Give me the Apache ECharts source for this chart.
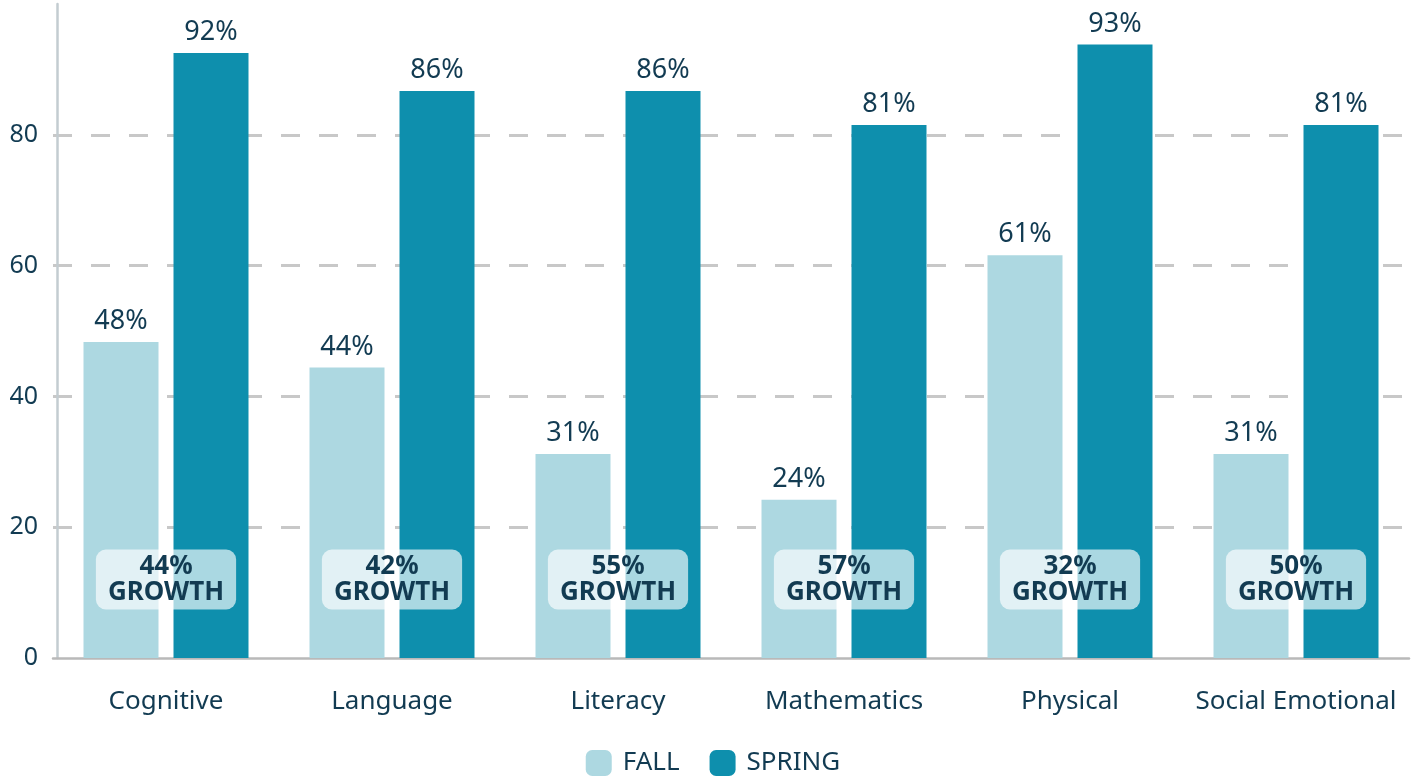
<!DOCTYPE html>
<html>
<head>
<meta charset="utf-8">
<script src="https://cdn.jsdelivr.net/npm/echarts@6/dist/echarts.min.js"></script>
<style>
  html, body { margin: 0; padding: 0; background: #ffffff; }
  #chart { width: 1426px; height: 782px; }
</style>
</head>
<body>
<div id="chart"></div>
<script>
// ---- data ----
const categories = ['Cognitive', 'Language', 'Literacy', 'Mathematics', 'Physical', 'Social Emotional'];
const fallValues = [48.3, 44.4, 31.2, 24.2, 61.6, 31.2];
const springValues = [92.5, 86.7, 86.7, 81.5, 93.8, 81.5];
const growthValues = [44, 42, 55, 57, 32, 50];
const seriesNames = ['FALL', 'SPRING'];
const yTicks = [0, 20, 40, 60, 80];

// ---- styles ----
const TEXT = '#123b52';
const FONT = 'Noto Sans';
const FALL_COLOR = '#add8e1';
const SPRING_COLOR = '#0e8fad';
const GROWTH_LEVEL = 12.0;

const chart = echarts.init(document.getElementById('chart'), null, { renderer: 'canvas' });

const barLabel = {
  show: true,
  position: 'top',
  distance: 7,
  color: TEXT,
  fontFamily: FONT,
  fontSize: 27,
  formatter: p => Math.floor(p.value) + '%'
};

chart.setOption({
  animation: false,
  textStyle: { fontFamily: FONT, color: TEXT },
  grid: { left: 53, right: 17, top: 4, bottom: 124, containLabel: false },
  legend: {
    data: seriesNames,
    top: 750,
    left: 'center',
    padding: 0,
    itemWidth: 26,
    itemHeight: 26,
    itemGap: 30,
    textStyle: { color: TEXT, fontFamily: FONT, fontSize: 26, padding: [6, 0, 0, 6] },
    icon: 'roundRect'
  },
  xAxis: {
    type: 'category',
    data: categories,
    axisTick: { show: false },
    axisLine: { lineStyle: { color: '#b9b9b9', width: 2.5 } },
    axisLabel: { color: TEXT, fontFamily: FONT, fontSize: 26, margin: 31, interval: 0 }
  },
  yAxis: {
    type: 'value',
    min: yTicks[0],
    max: 100,
    interval: yTicks[1] - yTicks[0],
    offset: -4,
    axisLine: { show: true, lineStyle: { color: '#c3ccd1', width: 2.5 } },
    axisTick: { show: false },
    axisLabel: {
      color: TEXT, fontFamily: FONT, fontSize: 25, margin: 19,
      showMaxLabel: false,
      formatter: v => (yTicks.indexOf(v) >= 0 ? String(v) : '')
    },
    splitLine: {
      show: true,
      showMinLine: false,
      showMaxLine: false,
      lineStyle: { color: '#c8c8c8', width: 3, type: [19, 19] }
    }
  },
  series: [
    {
      name: seriesNames[0],
      type: 'bar',
      data: fallValues,
      barWidth: 75,
      barGap: '20%',
      itemStyle: { color: FALL_COLOR },
      label: barLabel
    },
    {
      name: seriesNames[1],
      type: 'bar',
      data: springValues,
      barWidth: 75,
      barGap: '20%',
      itemStyle: { color: SPRING_COLOR },
      label: barLabel
    },
    {
      name: 'GROWTH',
      type: 'scatter',
      data: growthValues.map((g, i) => [i, GROWTH_LEVEL, g]),
      symbolSize: 0,
      z: 5,
      itemStyle: { opacity: 1 },
      label: {
        show: true,
        position: 'inside',
        formatter: p => p.value[2] + '%\nGROWTH',
        color: TEXT,
        fontFamily: FONT,
        fontSize: 26,
        fontWeight: 'bold',
        lineHeight: 26,
        align: 'center',
        verticalAlign: 'middle',
        backgroundColor: 'rgba(255,255,255,0.65)',
        borderRadius: 10,
        padding: [5, 12, 3, 12]
      }
    }
  ]
});
</script>
</body>
</html>
